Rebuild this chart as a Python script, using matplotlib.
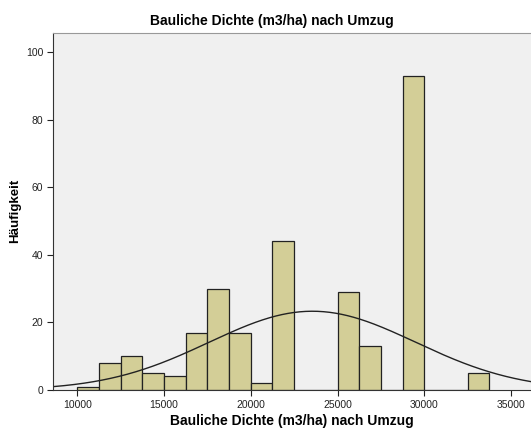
import numpy as np
import matplotlib
matplotlib.use("Agg")
import matplotlib.pyplot as plt

plt.rcParams['font.family'] = ['Liberation Sans', 'DejaVu Sans']

# histogram bins (left edges) and counts, bin width 1250
bin_left = [10000, 11250, 12500, 13750, 15000, 16250, 17500, 18750,
            20000, 21250, 22500, 23750, 25000, 26250, 27500, 28750,
            30000, 31250, 32500]
counts = [1, 8, 10, 5, 4, 17, 30, 17, 2, 44, 0, 0, 29, 13, 0, 93, 0, 0, 5]
bin_width = 1250

# normal curve parameters
mean_val = 23550
sd_val = 5950
n_total = sum(counts)

x_ticks = [10000, 15000, 20000, 25000, 30000, 35000]
y_ticks = [0, 20, 40, 60, 80, 100]

fig = plt.figure(figsize=(5.31, 4.30), dpi=100)
ax = fig.add_axes([53 / 531, 40 / 430, 478 / 531, 357 / 430])
ax.set_facecolor("#f0f0f0")

ax.bar(bin_left, counts, width=bin_width, align="edge",
       color="#d3ce97", edgecolor="#222222", linewidth=0.9)

xs = np.linspace(8600, 36150, 400)
ys = n_total * bin_width / (sd_val * np.sqrt(2 * np.pi)) * np.exp(-0.5 * ((xs - mean_val) / sd_val) ** 2)
ax.plot(xs, ys, color="#222222", linewidth=1.0)

ax.set_xlim(8600, 36150)
ax.set_ylim(0, 105.6)
ax.set_xticks(x_ticks)
ax.set_yticks(y_ticks)
ax.tick_params(labelsize=7.5, colors="#222222", length=4, width=0.8, direction="out", pad=3)

ax.spines["right"].set_visible(False)
ax.spines["top"].set_color("#999999")
ax.spines["left"].set_color("#333333")
ax.spines["bottom"].set_color("#333333")

fig.text(292 / 531, 1 - 421 / 430, "Bauliche Dichte (m3/ha) nach Umzug", fontsize=10,
         fontweight="bold", ha="center", va="center")
fig.text(15 / 531, 1 - 211 / 430, "Häufigkeit", rotation=90, fontsize=9.5, fontweight="bold",
         ha="center", va="center")
fig.text(272 / 531, 1 - 21 / 430, "Bauliche Dichte (m3/ha) nach Umzug", fontsize=10,
         fontweight="bold", ha="center", va="center")

plt.savefig("out.png", dpi=100)
plt.close()
